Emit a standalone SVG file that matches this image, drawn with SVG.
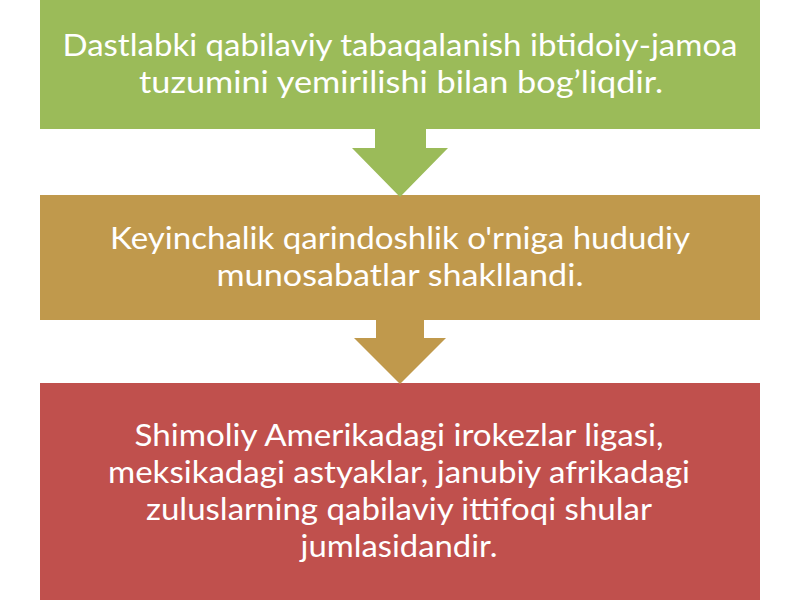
<svg xmlns="http://www.w3.org/2000/svg" width="800" height="600" viewBox="0 0 800 600">
<style>
.t{font-family:Lato,"Open Sans","Liberation Sans",sans-serif;font-size:31px;fill:#FFFFFF;text-anchor:middle}
</style>
<rect width="800" height="600" fill="#FFFFFF"/>
<g id="node1">
<rect x="40" y="-2" width="720" height="131" fill="#9BBB59"/>
<text class="t" x="400" y="56" textLength="675" lengthAdjust="spacingAndGlyphs">Dastlabki qabilaviy tabaqalanish ibtidoiy-jamoa</text>
<text class="t" x="401" y="93" textLength="524" lengthAdjust="spacingAndGlyphs">tuzumini yemirilishi bilan bog’liqdir.</text>
</g>
<g id="node2">
<rect x="40" y="195" width="720" height="125" fill="#C0994C"/>
<text class="t" x="400" y="249" textLength="580" lengthAdjust="spacingAndGlyphs">Keyinchalik qarindoshlik o'rniga hududiy</text>
<text class="t" x="400" y="286" textLength="367" lengthAdjust="spacingAndGlyphs">munosabatlar shakllandi.</text>
</g>
<g id="node3">
<rect x="40" y="383" width="720" height="220" fill="#C0504D"/>
<text class="t" x="399" y="446" textLength="529" lengthAdjust="spacingAndGlyphs">Shimoliy Amerikadagi irokezlar ligasi,</text>
<text class="t" x="399" y="483" textLength="582" lengthAdjust="spacingAndGlyphs">meksikadagi astyaklar, janubiy afrikadagi</text>
<text class="t" x="399" y="520" textLength="506" lengthAdjust="spacingAndGlyphs">zuluslarning qabilaviy ittifoqi shular</text>
<text class="t" x="399" y="557" textLength="197" lengthAdjust="spacingAndGlyphs">jumlasidandir.</text>
</g>
<g id="connectors">
<polygon points="375,128 426,128 426,148 448,148 400,197 352,148 375,148" fill="#9BBB59"/>
<polygon points="376,319 424,319 424,338 446,338 400,384 354,338 376,338" fill="#C0994C"/>
</g>
</svg>
